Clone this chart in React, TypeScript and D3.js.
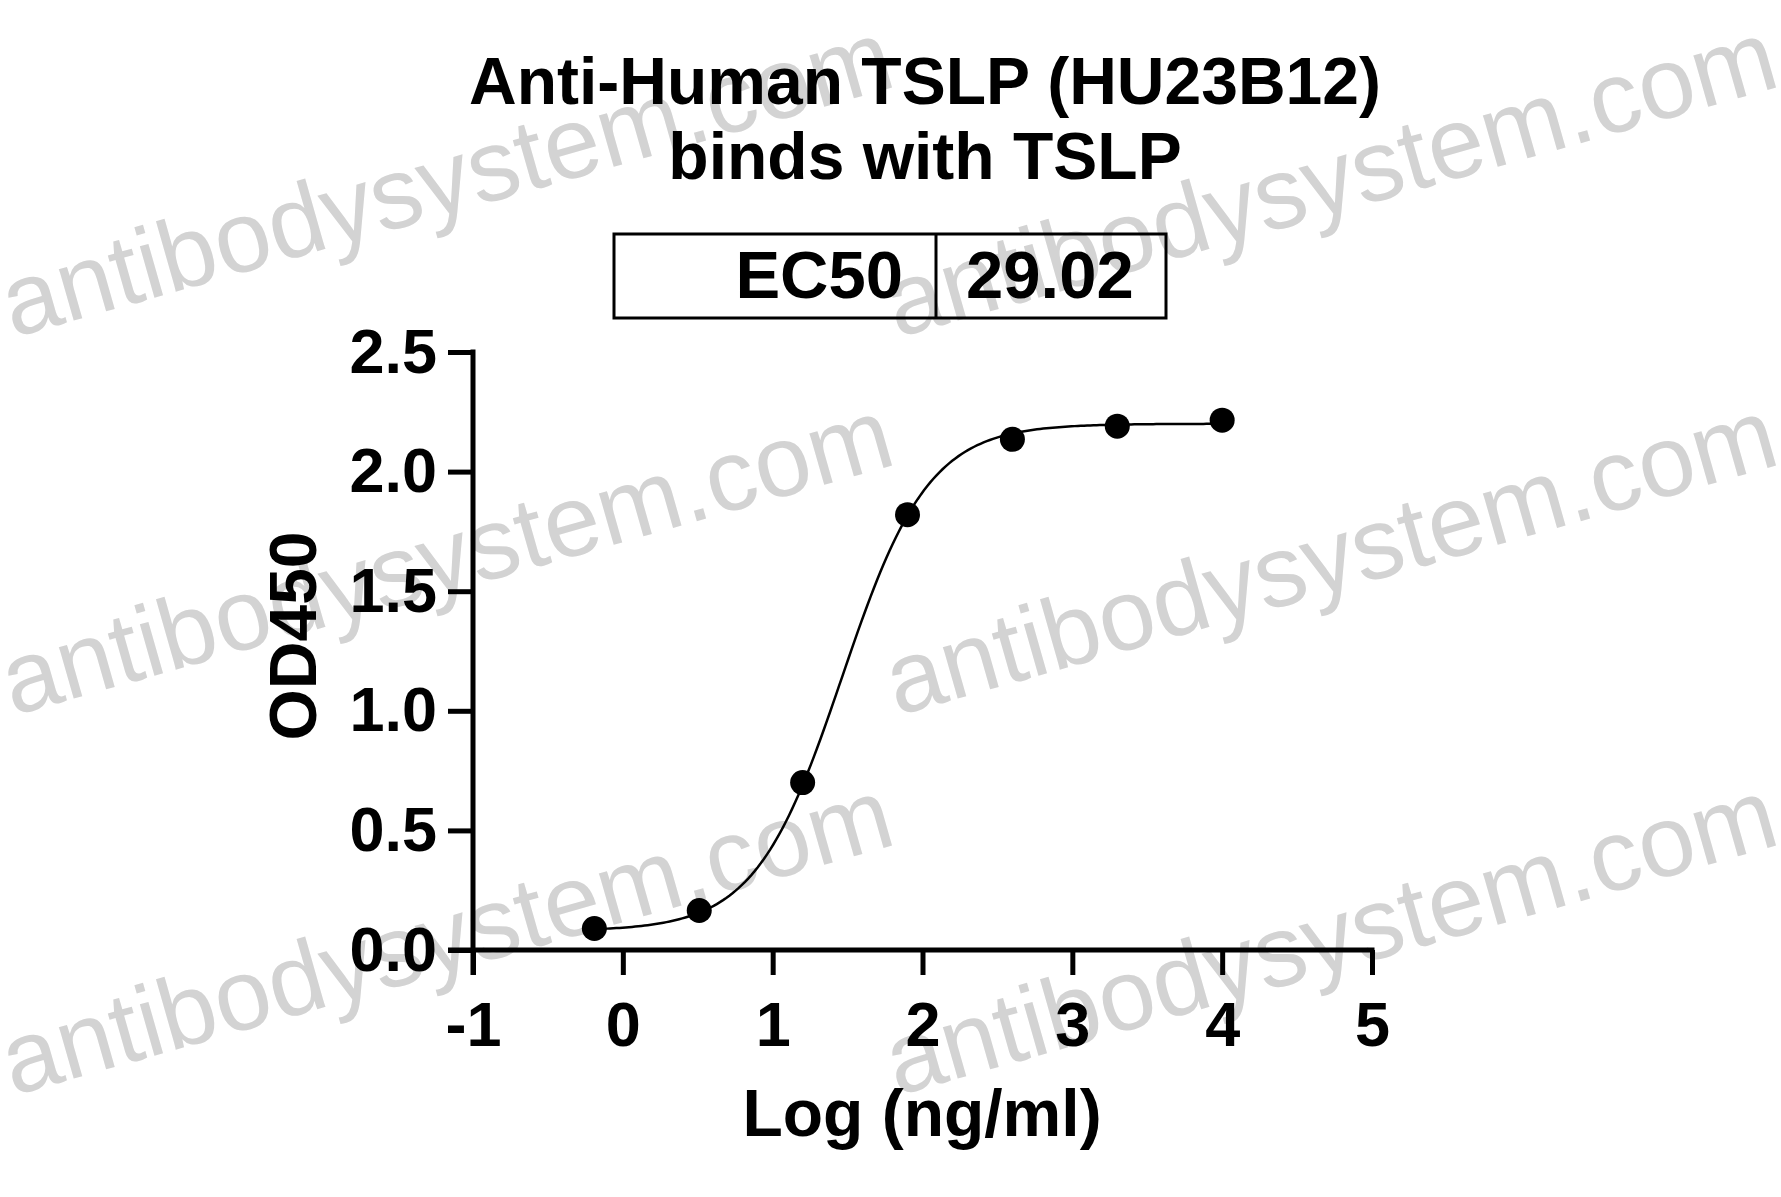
import { useEffect, useRef } from "react";
import * as d3 from "d3";

// measured points (log concentration vs OD450)
const logConc = [-0.19, 0.51, 1.2, 1.9, 2.6, 3.3, 4.0];
const od450 = [0.09, 0.165, 0.7, 1.82, 2.135, 2.19, 2.215];

// 4PL fit (EC50 given in the table)
const ec50 = 29.02;
const fitBottom = 0.08;
const fitTop = 2.2;
const fitHill = 1.5;

const xTicks = [-1, 0, 1, 2, 3, 4, 5];
const yTicks = [0, 0.5, 1.0, 1.5, 2.0, 2.5];

const titleLines = ["Anti-Human TSLP (HU23B12)", "binds with TSLP"];
const tableRow = ["EC50", "29.02"];
const xLabel = "Log (ng/ml)";
const yLabel = "OD450";
const watermark = "antibodysystem.com";

const FONT = "'Liberation Sans', Arial, Helvetica, sans-serif";

function App() {
  const svgRef = useRef<SVGSVGElement>(null);

  useEffect(() => {
    const width = 1781;
    const height = 1197;
    const tick = 25;

    const x = d3.scaleLinear().domain([-1, 5]).range([473, 1372]);
    const y = d3.scaleLinear().domain([0, 2.5]).range([950, 352]);

    const svg = d3
      .select(svgRef.current)
      .attr("width", width)
      .attr("height", height);
    svg.selectAll("*").remove();

    svg
      .append("rect")
      .attr("width", width)
      .attr("height", height)
      .attr("fill", "#fff");

    // watermarks (behind everything)
    const wmPos = [
      [13, 338],
      [897, 338],
      [13, 716],
      [897, 716],
      [13, 1096],
      [897, 1096],
    ];
    wmPos.forEach(([wx, wy]) => {
      svg
        .append("text")
        .attr("transform", `translate(${wx},${wy}) rotate(-15.9)`)
        .attr("font-family", FONT)
        .attr("font-size", 101)
        .attr("fill", "#d3d3d3")
        .text(watermark);
    });

    // title
    titleLines.forEach((t, i) => {
      svg
        .append("text")
        .attr("x", 925)
        .attr("y", 104 + i * 75)
        .attr("text-anchor", "middle")
        .attr("font-family", FONT)
        .attr("font-weight", "bold")
        .attr("font-size", 66)
        .text(t);
    });

    // EC50 table
    const tbl = svg.append("g");
    tbl
      .append("rect")
      .attr("x", 614)
      .attr("y", 234)
      .attr("width", 552)
      .attr("height", 84)
      .attr("fill", "none")
      .attr("stroke", "#000")
      .attr("stroke-width", 3);
    tbl
      .append("line")
      .attr("x1", 936)
      .attr("x2", 936)
      .attr("y1", 234)
      .attr("y2", 318)
      .attr("stroke", "#000")
      .attr("stroke-width", 3);
    tbl
      .append("text")
      .attr("x", 903)
      .attr("y", 298)
      .attr("text-anchor", "end")
      .attr("font-family", FONT)
      .attr("font-weight", "bold")
      .attr("font-size", 67)
      .text(tableRow[0]);
    tbl
      .append("text")
      .attr("x", 966)
      .attr("y", 298)
      .attr("font-family", FONT)
      .attr("font-weight", "bold")
      .attr("font-size", 67)
      .text(tableRow[1]);

    // axes
    const yAxis = svg
      .append("g")
      .attr("transform", `translate(${x(-1)},0)`)
      .call(
        d3
          .axisLeft(y)
          .tickValues(yTicks)
          .tickSize(tick)
          .tickPadding(11)
          .tickFormat(d3.format(".1f"))
      );
    const xAxis = svg
      .append("g")
      .attr("transform", `translate(0,${y(0)})`)
      .call(
        d3
          .axisBottom(x)
          .tickValues(xTicks)
          .tickSize(tick)
          .tickPadding(26)
          .tickFormat((d) => String(d))
      );
    [yAxis, xAxis].forEach((g) => {
      g.select(".domain").remove();
      g.selectAll(".tick line")
        .attr("stroke", "#000")
        .attr("stroke-width", 5);
      g.selectAll(".tick text")
        .attr("fill", "#000")
        .attr("font-family", FONT)
        .attr("font-weight", "bold")
        .attr("font-size", 63);
    });

    svg
      .append("line")
      .attr("x1", x(-1))
      .attr("x2", x(-1))
      .attr("y1", y(2.5) - 2.5)
      .attr("y2", y(0) + tick)
      .attr("stroke", "#000")
      .attr("stroke-width", 5);
    svg
      .append("line")
      .attr("x1", x(-1) - tick)
      .attr("x2", x(5) + 2.5)
      .attr("y1", y(0))
      .attr("y2", y(0))
      .attr("stroke", "#000")
      .attr("stroke-width", 5);

    // axis titles
    svg
      .append("text")
      .attr("x", 922)
      .attr("y", 1136)
      .attr("text-anchor", "middle")
      .attr("font-family", FONT)
      .attr("font-weight", "bold")
      .attr("font-size", 66)
      .text(xLabel);
    svg
      .append("text")
      .attr("transform", `translate(316,636) rotate(-90)`)
      .attr("text-anchor", "middle")
      .attr("font-family", FONT)
      .attr("font-weight", "bold")
      .attr("font-size", 66)
      .text(yLabel);

    // fitted curve
    const logEc50 = Math.log10(ec50);
    const fit = (v: number) =>
      fitBottom +
      (fitTop - fitBottom) / (1 + Math.pow(10, (logEc50 - v) * fitHill));
    const [x0, x1] = d3.extent(logConc) as [number, number];
    const curve = d3.range(0, 201).map((i) => {
      const v = x0 + ((x1 - x0) * i) / 200;
      return [v, fit(v)] as [number, number];
    });
    svg
      .append("path")
      .datum(curve)
      .attr("fill", "none")
      .attr("stroke", "#000")
      .attr("stroke-width", 2.5)
      .attr(
        "d",
        d3
          .line<[number, number]>()
          .x((d) => x(d[0]))
          .y((d) => y(d[1]))
      );

    // points
    svg
      .selectAll(".pt")
      .data(logConc.map((v, i) => [v, od450[i]]))
      .enter()
      .append("circle")
      .attr("class", "pt")
      .attr("cx", (d) => x(d[0]))
      .attr("cy", (d) => y(d[1]))
      .attr("r", 12.5)
      .attr("fill", "#000");
  }, []);

  return (
    <div style={{ position: "fixed", left: 0, top: 0 }}>
      <svg ref={svgRef} style={{ display: "block" }}></svg>
    </div>
  );
}

export default App;
